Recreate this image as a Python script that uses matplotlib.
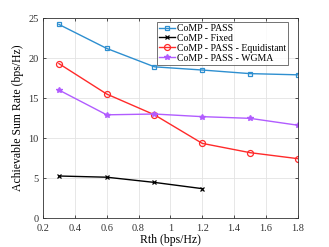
import matplotlib
matplotlib.use("Agg")
import matplotlib.pyplot as plt

rth = [0.3, 0.6, 0.9, 1.2, 1.5, 1.8]
rth_fixed = [0.3, 0.6, 0.9, 1.2]
pass_vals = [24.2, 21.2, 18.9, 18.5, 18.05, 17.9]
fixed_vals = [5.25, 5.1, 4.45, 3.67]
equi_vals = [19.3, 15.5, 12.9, 9.33, 8.17, 7.42]
wgma_vals = [16.0, 12.9, 13.0, 12.67, 12.46, 11.6]
xticks = [0.2, 0.4, 0.6, 0.8, 1.0, 1.2, 1.4, 1.6, 1.8]
xticklabels = ["0.2", "0.4", "0.6", "0.8", "1", "1.2", "1.4", "1.6", "1.8"]
yticks = [0, 5, 10, 15, 20, 25]

plt.rcParams['font.family'] = ['Liberation Serif', 'DejaVu Serif']

fig = plt.figure(figsize=(3.29, 2.47), dpi=100)
ax = fig.add_axes([0.1307, 0.1174, 0.7743, 0.8096])

ax.plot(rth, pass_vals, color='#2e8fd0', lw=1.0, marker='s', ms=3.5, mfc='none', mew=0.9, label='CoMP - PASS')
ax.plot(rth_fixed, fixed_vals, color='black', lw=1.0, marker='x', ms=3, mew=0.9, label='CoMP - Fixed')
ax.plot(rth, equi_vals, color='#ff2a2a', lw=1.0, marker='o', ms=4.3, mfc='none', mew=0.9, label='CoMP - PASS - Equidistant')
ax.plot(rth, wgma_vals, color='#b15cff', lw=1.0, marker='*', ms=4, label='CoMP - PASS - WGMA')

ax.set_xlim(0.2, 1.8)
ax.set_ylim(0, 25)
ax.set_xticks(xticks)
ax.set_xticklabels(xticklabels)
ax.set_yticks(yticks)
ax.tick_params(direction='in', top=True, right=True, labelsize=7.5, length=2.5, width=0.6, colors='#333333')
ax.tick_params(axis='x', pad=4)
ax.tick_params(axis='y', pad=3)
ax.grid(True, color='#e3e3e3', lw=0.6)
ax.set_axisbelow(True)
for s in ax.spines.values():
    s.set_color('#333333')
    s.set_linewidth(0.6)

ax.set_xlabel('Rth (bps/Hz)', fontsize=8.5, labelpad=1)
ax.set_ylabel('Achievable Sum Rate (bps/Hz)', fontsize=8.5, labelpad=3)

leg = ax.legend(loc='upper right', bbox_to_anchor=(0.97, 0.99), fontsize=7, frameon=True, fancybox=False,
                borderpad=0.2, labelspacing=0.1, handlelength=1.7, handletextpad=0.2, borderaxespad=0.2)
leg.get_frame().set_edgecolor('#333333')
leg.get_frame().set_linewidth(0.6)

fig.savefig('out.png', dpi=100)
